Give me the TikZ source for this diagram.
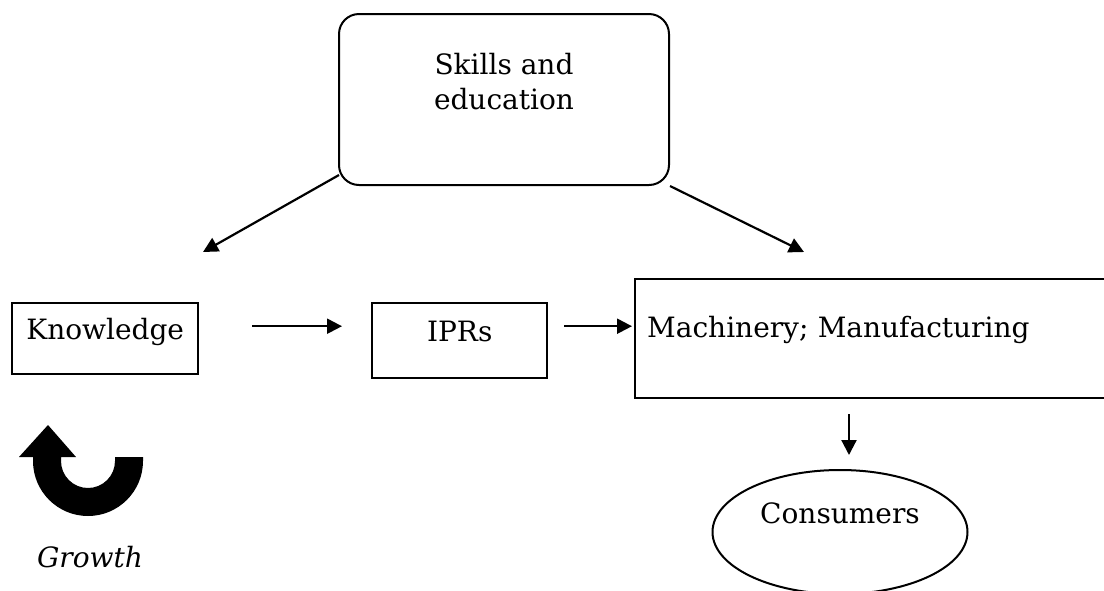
\documentclass[tikz,border=0pt]{standalone}
\usepackage{fontspec}
\setmainfont{DejaVu Serif}
\usetikzlibrary{positioning, arrows.meta, shapes.geometric, calc}

\begin{document}
\begin{tikzpicture}[
    x=1pt, y=-1pt,
    >={Triangle[length=15pt, width=15pt]},
    font=\fontsize{28}{35}\selectfont,
    box/.style={draw, line width=2.4pt, inner sep=0pt, anchor=north west},
    roundbox/.style={box, rounded corners=20pt, line width=2pt},
    oval/.style={draw, ellipse, line width=2pt, inner sep=0pt},
    arrow/.style={->, line width=2.2pt},
    uturn/.style={fill=black},
]

\useasboundingbox (0,0) rectangle (1104,590);

% ============ NODES ============

% top box
\node[roundbox, minimum width=330pt, align=center,
      text height=95pt, text depth=76pt] (skills) at (338,13) {Skills and\\education};

% middle row
\node[box, minimum width=186pt, text height=36pt, text depth=35pt] (know) at (11,302) {Knowledge};
\node[box, minimum width=175pt, text height=38pt, text depth=37pt] (ipr)  at (371,302) {IPRs};
\node[box, inner xsep=12pt, text width=448pt, align=left,
      text height=58pt, text depth=61pt] (mach) at (634,278) {Machinery; Manufacturing};

% bottom
\node[oval, minimum width=255pt, minimum height=124pt,
      text height=20pt, text depth=38pt] (cons) at (840,532) {Consumers};
\node[anchor=base, font=\fontsize{28}{35}\selectfont\itshape] (growth) at (90,567) {Growth};

% free ends of the two diagonals
\coordinate (kin) at (203,252);
\coordinate (min) at (804,252);

% ============ ARROWS ============
\draw[arrow] ($(skills.south west)+(1,-11)$) -- (kin);
\draw[arrow] (skills.south east) -- (min);
\draw[arrow] ($(know.east)+(53,-12.5)$) -- ($(ipr.west)+(-29,-14.5)$);
\draw[arrow] ($(ipr.east)+(16,-14.5)$) -- ($(mach.west)+(-2,-12.5)$);
\draw[arrow] ($(mach.south west)+(215,15)$) -- ($(cons.north)+(9,-14)$);

% growth symbol
\path[uturn] (143,457) -- (143,461) arc[start angle=0, end angle=-180, radius=55pt]
    -- (33,457) -- (19,457) -- (48,425) -- (76,457) -- (61,457) -- (61,461)
    arc[start angle=180, end angle=360, radius=27pt] -- (115,457) -- cycle;

\end{tikzpicture}
\end{document}
